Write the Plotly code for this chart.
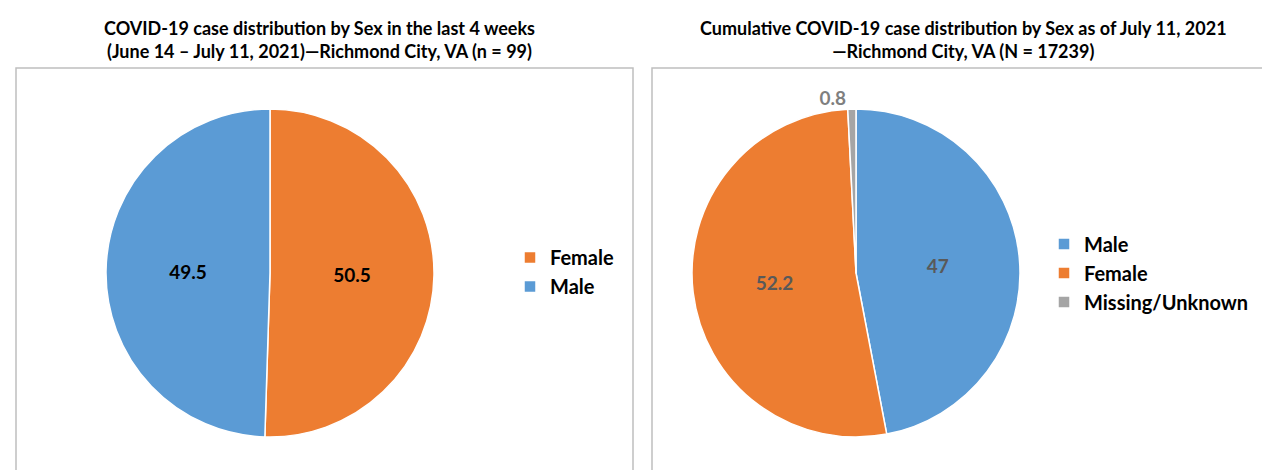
import plotly.graph_objects as go

# Left chart: last 4 weeks
left_labels = ["Female", "Male"]
left_values = [50.5, 49.5]
left_colors = ["#ED7D31", "#5B9BD5"]
left_title = "COVID-19 case distribution by Sex in the last 4 weeks<br>(June 14 \u2013 July 11, 2021)\u2014Richmond City, VA (n = 99)"

# Right chart: cumulative (trailing space keeps its legend entries separate from the left chart's)
right_labels = ["Male ", "Female ", "Missing/Unknown"]
right_values = [47, 52.2, 0.8]
right_colors = ["#5B9BD5", "#ED7D31", "#A5A5A5"]
right_title = "Cumulative COVID-19 case distribution by Sex as of July 11, 2021<br>\u2014Richmond City, VA (N = 17239)"

W, H = 1270, 470
FONT = "Lato"

def px(x):
    return x / W

def py(y):
    return (H - y) / H

fig = go.Figure()

fig.add_trace(go.Pie(
    labels=left_labels, values=left_values, sort=False, direction="clockwise",
    marker=dict(colors=left_colors, line=dict(color="white", width=1.5)),
    textinfo="value", textposition="inside",
    insidetextfont=dict(family=FONT, size=19, color="black", weight="bold"),
    domain=dict(x=[px(98), px(426)], y=[py(429), py(101)]),
    legend="legend", hoverinfo="label+value", name="",
))

fig.add_trace(go.Pie(
    labels=right_labels, values=right_values, sort=False, direction="clockwise",
    marker=dict(colors=right_colors, line=dict(color="white", width=1.5)),
    textinfo="value", textposition=["inside", "inside", "outside"],
    insidetextfont=dict(family=FONT, size=19, color="#595959", weight="bold"),
    outsidetextfont=dict(family=FONT, size=19, color="#7F7F7F", weight="bold"),
    domain=dict(x=[px(684), px(1012)], y=[py(429), py(101)]),
    legend="legend2", hoverinfo="label+value", name="",
))

# Panel boxes
for x0, x1 in [(8, 625), (644, 1266)]:
    fig.add_shape(type="rect", xref="paper", yref="paper",
                  x0=px(x0), x1=px(x1), y0=-0.02, y1=py(60),
                  line=dict(color="#BFBFBF", width=1.5), layer="below")

# Titles
fig.add_annotation(text=left_title, x=px(311), y=py(31), xref="paper", yref="paper",
                   showarrow=False, xanchor="center", yanchor="middle",
                   font=dict(family=FONT, size=18, color="black", weight="bold"))
fig.add_annotation(text=right_title, x=px(955), y=py(31), xref="paper", yref="paper",
                   showarrow=False, xanchor="center", yanchor="middle",
                   font=dict(family=FONT, size=18, color="black", weight="bold"))

fig.update_layout(
    width=W, height=H,
    margin=dict(l=0, r=0, t=0, b=0),
    paper_bgcolor="white", plot_bgcolor="white",
    showlegend=True,
    legend=dict(x=px(502), y=py(264), xanchor="left", yanchor="middle",
                font=dict(family=FONT, size=20, color="black", weight="bold"),
                bgcolor="rgba(0,0,0,0)"),
    legend2=dict(x=px(1036), y=py(265), xanchor="left", yanchor="middle",
                 font=dict(family=FONT, size=20, color="black", weight="bold"),
                 bgcolor="rgba(0,0,0,0)"),
)

fig.write_html("out.html")
